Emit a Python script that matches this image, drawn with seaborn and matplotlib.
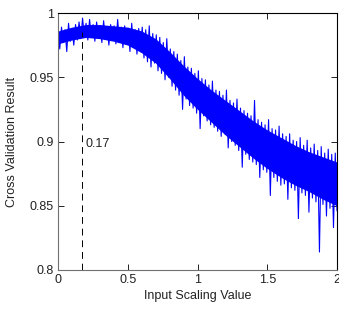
import numpy as np
import pandas as pd
import seaborn as sns
import matplotlib
matplotlib.use("Agg")
import matplotlib.pyplot as plt

# Noisy cross validation curve as (high, low) pairs
cv_high = [0.986, 0.989, 0.987, 0.992, 0.988, 0.991, 0.993, 0.996, 0.992, 0.995,
           0.991, 0.993, 0.990, 0.994, 0.989, 0.991, 0.990, 0.995, 0.989, 0.990,
           0.988, 0.992, 0.987, 0.988, 0.989, 0.987, 0.990, 0.984, 0.983, 0.981,
           0.977, 0.980, 0.972, 0.970, 0.968, 0.963, 0.966, 0.958, 0.957, 0.953,
           0.955, 0.949, 0.948, 0.944, 0.947, 0.940, 0.939, 0.936, 0.940, 0.932,
           0.930, 0.933, 0.926, 0.924, 0.922, 0.920, 0.932, 0.917, 0.915, 0.913,
           0.917, 0.910, 0.909, 0.912, 0.906, 0.904, 0.906, 0.901, 0.900, 0.903,
           0.897, 0.901, 0.895, 0.898, 0.893, 0.896, 0.891, 0.894, 0.890, 0.891]
cv_low = [0.972, 0.977, 0.970, 0.978, 0.975, 0.979, 0.980, 0.982, 0.979, 0.981,
          0.978, 0.982, 0.977, 0.980, 0.975, 0.979, 0.976, 0.978, 0.973, 0.977,
          0.970, 0.974, 0.968, 0.971, 0.965, 0.962, 0.958, 0.961, 0.955, 0.953,
          0.948, 0.950, 0.943, 0.940, 0.936, 0.925, 0.933, 0.928, 0.926, 0.922,
          0.910, 0.920, 0.916, 0.913, 0.911, 0.908, 0.904, 0.906, 0.895, 0.900,
          0.897, 0.893, 0.880, 0.890, 0.886, 0.884, 0.882, 0.872, 0.878, 0.876,
          0.858, 0.872, 0.869, 0.866, 0.867, 0.855, 0.864, 0.862, 0.840, 0.860,
          0.858, 0.845, 0.856, 0.853, 0.814, 0.851, 0.842, 0.848, 0.833, 0.846]

# dense body of the noise band, every 0.1 along the x axis
band_x = [0.0, 0.1, 0.2, 0.3, 0.4, 0.5, 0.6, 0.7, 0.8, 0.9, 1.0,
          1.1, 1.2, 1.3, 1.4, 1.5, 1.6, 1.7, 1.8, 1.9, 2.0]
band_upper = [0.986, 0.989, 0.991, 0.991, 0.990, 0.989, 0.986, 0.980, 0.970, 0.959, 0.949,
              0.940, 0.932, 0.924, 0.916, 0.909, 0.903, 0.897, 0.892, 0.888, 0.884]
band_lower = [0.976, 0.979, 0.981, 0.980, 0.978, 0.975, 0.969, 0.961, 0.949, 0.936, 0.925,
              0.915, 0.905, 0.896, 0.887, 0.879, 0.872, 0.866, 0.861, 0.855, 0.850]

best_scaling = 0.17
best_result = 0.985
x_ticks = [0, 0.5, 1, 1.5, 2]
x_tick_labels = ["0", "0.5", "1", "1.5", "2"]
y_ticks = [0.8, 0.85, 0.9, 0.95, 1]
y_tick_labels = ["0.8", "0.85", "0.9", "0.95", "1"]

# interleave the high/low readings into one zig-zag series
values = [v for pair in zip(cv_high, cv_low) for v in pair]
df = pd.DataFrame({"scaling": np.linspace(0, 2, len(values)), "result": values})

sns.set_style("ticks")
plt.rcParams["font.family"] = ["Liberation Sans", "DejaVu Sans"]

fig = plt.figure(figsize=(3.39, 3.09), dpi=100)
ax = fig.add_axes([58 / 339, 1 - 270 / 309, 279 / 339, 257 / 309])

ax.fill_between(band_x, band_lower, band_upper, color="#0000ff", linewidth=0)
sns.lineplot(data=df, x="scaling", y="result", ax=ax, color="#0000ff",
             linewidth=0.8, estimator=None, sort=False)

ax.plot([best_scaling, best_scaling], [0.8, best_result], color="black",
        linestyle=(0, (7, 5)), linewidth=0.7)
ax.text(best_scaling + 0.03, 0.898, f"{best_scaling:.2f}", fontsize=9,
        ha="left", va="center", color="#222222")

ax.set_xlim(0, 2)
ax.set_ylim(0.8, 1)
ax.set_xticks(x_ticks)
ax.set_xticklabels(x_tick_labels)
ax.set_yticks(y_ticks)
ax.set_yticklabels(y_tick_labels)
ax.tick_params(direction="in", length=4, width=0.7, top=True, right=True,
               labelsize=9, colors="#222222", pad=3)
ax.set_xlabel("Input Scaling Value", fontsize=9, color="#222222", labelpad=3)
ax.set_ylabel("Cross Validation Result", fontsize=9, color="#222222", labelpad=8)

for side in ["left", "bottom"]:
    ax.spines[side].set_color("#707070")
    ax.spines[side].set_linewidth(0.8)
for side in ["top", "right"]:
    ax.spines[side].set_visible(True)
    ax.spines[side].set_color("black")
    ax.spines[side].set_linewidth(0.8)

fig.savefig("out.png", dpi=100)
plt.close(fig)
